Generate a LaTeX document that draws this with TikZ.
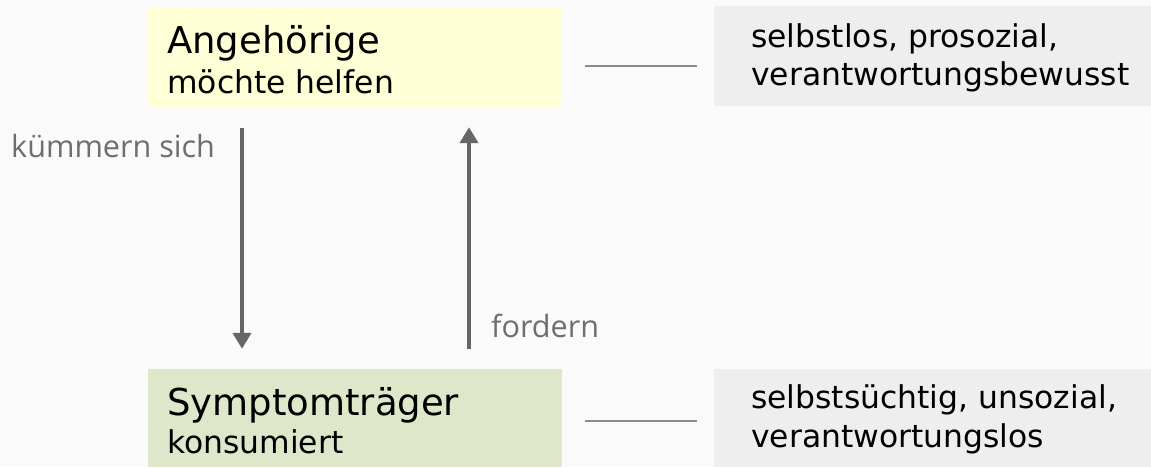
\documentclass[tikz,border=0pt]{standalone}
\usepackage{fontspec}
\setmainfont{DejaVu Sans}
\newfontfamily\labfont{Open Sans}
\definecolor{bgc}{HTML}{FAFAFA}
\definecolor{yelc}{HTML}{FFFFD6}
\definecolor{grnc}{HTML}{DEE7CA}
\definecolor{gryc}{HTML}{EEEEEE}
\definecolor{arrc}{HTML}{666666}
\definecolor{labc}{HTML}{6E6E6E}
\definecolor{linec}{HTML}{8A8A8A}
\usetikzlibrary{arrows.meta}
\tikzset{
  box/.style={draw=none, rectangle, inner sep=0pt, minimum width=414pt, minimum height=100pt},
  gbox/.style={draw=none, rectangle, inner sep=0pt, fill=gryc, minimum width=437pt, minimum height=100pt},
  txt/.style={anchor=base west, inner sep=0pt, text=black},
  big/.style={txt, font=\fontsize{37}{40}\selectfont},
  small/.style={txt, font=\fontsize{31.4}{36}\selectfont},
  lab/.style={anchor=base west, inner sep=0pt, text=labc, font=\labfont\fontsize{30.6}{34}\selectfont},
  arr/.style={draw=arrc, line width=4pt, -{Triangle[width=18pt,length=16pt]}},
  conn/.style={draw=linec, line width=1.3pt}
}
\begin{document}
\begin{tikzpicture}[x=1pt,y=-1pt]
\useasboundingbox (0,0) rectangle (1151,467);
\fill[bgc] (0,0) rectangle (1151,467);
\node[box, fill=yelc] (ang) at (355,57) {};
\node[box, fill=grnc, minimum height=98pt] (sym) at (355,418) {};
\node[gbox] (tr) at (932.5,56) {};
\node[gbox, minimum height=98pt] (br) at (932.5,418) {};
\node[big] (t1) at (167,53) {Angehörige};
\node[small] (t2) at (167,93) {möchte helfen};
\node[big] (t3) at (167,415) {Symptomträger};
\node[small] (t4) at (167,453) {konsumiert};
\node[small] (t5) at (751,47) {selbstlos, prosozial,};
\node[small] (t6) at (751,85) {verantwortungsbewusst};
\node[small] (t7) at (751,408) {selbstsüchtig, unsozial,};
\node[small] (t8) at (751,447) {verantwortungslos};
\node[lab] (l1) at (11,157) {kümmern sich};
\node[lab] (l2) at (491,337) {fordern};
\draw[arr] ([xshift=-113pt,yshift=-21pt]ang.south) -- ([xshift=-113pt,yshift=20pt]sym.north);
\draw[arr] ([xshift=114pt,yshift=20pt]sym.north) -- ([xshift=114pt,yshift=-20pt]ang.south);
\draw[conn] ([xshift=23pt,yshift=-9pt]ang.east) -- ([xshift=-17pt,yshift=-10pt]tr.west);
\draw[conn] ([xshift=23pt,yshift=-3pt]sym.east) -- ([xshift=-17pt,yshift=-3pt]br.west);
\end{tikzpicture}
\end{document}
